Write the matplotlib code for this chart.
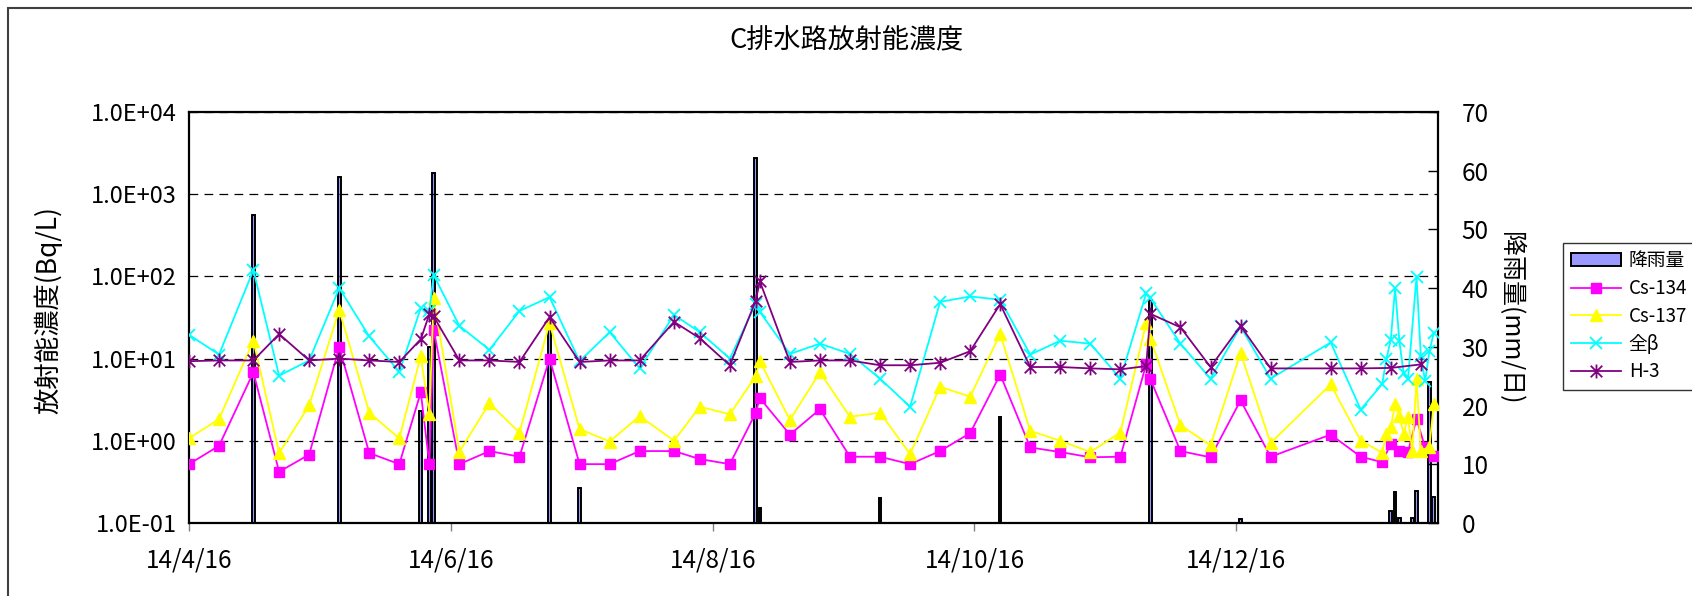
import matplotlib
matplotlib.use("Agg")
import numpy as np
import pandas as pd
import matplotlib.pyplot as plt
from matplotlib.path import Path
from matplotlib.patches import Rectangle
from matplotlib.ticker import FixedLocator, FuncFormatter, NullLocator

plt.rcParams['font.family'] = ['Noto Sans CJK JP', 'DejaVu Sans']

# sampling dates and concentrations (Bq/L), None = not measured
sample_dates = [
    '2014-04-16', '2014-04-23', '2014-05-01', '2014-05-07', '2014-05-14',
    '2014-05-21', '2014-05-28', '2014-06-04', '2014-06-09', '2014-06-11',
    '2014-06-12', '2014-06-18', '2014-06-25', '2014-07-02', '2014-07-09',
    '2014-07-16', '2014-07-23', '2014-07-30', '2014-08-07', '2014-08-13',
    '2014-08-20', '2014-08-26', '2014-08-27', '2014-09-03', '2014-09-10',
    '2014-09-17', '2014-09-24', '2014-10-01', '2014-10-08', '2014-10-15',
    '2014-10-22', '2014-10-29', '2014-11-05', '2014-11-12', '2014-11-19',
    '2014-11-25', '2014-11-26', '2014-12-03', '2014-12-10', '2014-12-17',
    '2014-12-24', '2015-01-07', '2015-01-14', '2015-01-19', '2015-01-20',
    '2015-01-21', '2015-01-22', '2015-01-23', '2015-01-24', '2015-01-25',
    '2015-01-26', '2015-01-27', '2015-01-28', '2015-01-29', '2015-01-30',
    '2015-01-31',
]
cs134 = [
    0.52, 0.87, 6.8, 0.42, 0.68, 13.8, 0.71, 0.52, 3.9, 0.52,
    22.5, 0.52, 0.75, 0.64, 10.0, 0.52, 0.52, 0.75, 0.75, 0.60,
    0.52, 2.17, 3.3, 1.19, 2.42, 0.64, 0.64, 0.52, 0.75, 1.24,
    6.4, 0.83, 0.73, 0.63, 0.64, 8.5, 5.6, 0.75, 0.63, 3.1,
    0.64, 1.19, 0.64, 0.55, None, 0.92, None, 0.76, None, 0.73,
    None, 1.85, None, 0.83, None, 0.66,
]
cs137 = [
    1.07, 1.84, 16.5, 0.71, 2.7, 39.0, 2.2, 1.07, 10.7, 2.1,
    54.0, 0.74, 2.86, 1.26, 27.0, 1.39, 0.98, 2.0, 1.0, 2.6,
    2.1, 6.1, 9.3, 1.8, 6.8, 1.96, 2.2, 0.69, 4.55, 3.44,
    20.0, 1.32, 1.0, 0.73, 1.26, 27.0, 17.4, 1.55, 0.88, 11.7,
    0.94, 4.85, 1.0, 0.72, 1.22, 1.46, 2.8, 2.0, 1.22, 1.93,
    0.76, 5.6, 0.76, None, 0.84, 2.8,
]
beta = [
    19.5, 11.2, 119.0, 6.2, 9.5, 72.0, 18.6, 6.9, 41.0, 38.0,
    104.0, 25.0, 12.8, 38.0, 56.0, 9.3, 21.0, 7.6, 34.0, 21.0,
    10.0, 46.0, 37.0, 11.4, 15.2, 11.4, 5.7, 2.6, 49.0, 57.0,
    52.0, 11.2, 16.5, 15.2, 5.7, 62.0, 54.0, 15.2, 5.7, 24.6,
    5.7, 15.7, 2.4, 4.9, 10.0, 17.0, 72.0, 16.3, 6.6, 5.6,
    None, 99.0, 10.7, 5.35, 12.3, 20.5,
]
h3 = [
    9.3, 9.5, 9.5, 19.9, 9.5, 10.0, 9.5, 9.1, 17.2, 34.8,
    32.6, 9.5, 9.5, 9.1, 32.0, 9.1, 9.5, 9.5, 28.0, 17.7,
    8.3, 50.0, 87.0, 9.1, 9.5, 9.5, 8.3, 8.3, 8.9, 12.3,
    46.0, 7.9, 7.9, 7.6, 7.4, 8.1, 35.0, 24.0, 7.9, 25.0,
    7.6, 7.6, 7.6, None, None, 7.7, None, None, None, None,
    None, None, 8.5, None, None, None,
]

# daily rainfall (mm/day)
rain_dates = [
    '2014-05-01', '2014-05-21', '2014-06-09', '2014-06-11', '2014-06-12',
    '2014-07-09', '2014-07-16', '2014-08-26', '2014-08-27', '2014-09-24',
    '2014-10-22', '2014-11-26', '2014-12-17', '2015-01-21', '2015-01-22',
    '2015-01-23', '2015-01-26', '2015-01-27', '2015-01-30', '2015-01-31',
]
rain_mm = [
    52.4, 59.0, 19.0, 30.0, 59.6,
    34.3, 6.0, 62.1, 2.6, 4.2,
    18.1, 37.9, 0.7, 2.0, 5.2,
    0.8, 0.8, 5.5, 24.0, 4.5,
]

tick_dates = ['2014-04-16', '2014-06-16', '2014-08-16', '2014-10-16', '2014-12-16']
tick_labels = ['14/4/16', '14/6/16', '14/8/16', '14/10/16', '14/12/16']


def main():
    W, H = 1692, 596
    fig = plt.figure(figsize=(W / 100, H / 100), dpi=100)

    # plot box in pixels: x 189..1438, y 112..523
    ax_rain = fig.add_axes([189 / W, 1 - 523 / H, (1438 - 189) / W, (523 - 112) / H])
    ax = ax_rain.twinx()

    # concentrations on the left log axis, rain on the right
    ax.yaxis.tick_left()
    ax.yaxis.set_label_position('left')
    ax_rain.yaxis.tick_right()
    ax_rain.yaxis.set_label_position('right')

    dates = pd.to_datetime(sample_dates)
    rain_dt = pd.to_datetime(rain_dates)

    bars = ax_rain.bar(rain_dt, rain_mm, width=0.6, color='#9999FF',
                       edgecolor='black', linewidth=1.4, label='降雨量')

    asterisk = Path([(-1, -1), (1, 1), (-1, 1), (1, -1), (0, -1.2), (0, 1.2)],
                    [Path.MOVETO, Path.LINETO, Path.MOVETO, Path.LINETO,
                     Path.MOVETO, Path.LINETO])

    series = [
        ('Cs-134', cs134, '#FF00FF', 's', 7, 1),
        ('Cs-137', cs137, '#FFFF00', '^', 8, 1),
        ('全β', beta, '#00FFFF', 'x', 9, 1.3),
        ('H-3', h3, '#800080', asterisk, 10, 1.3),
    ]
    handles = [bars]
    for name, vals, col, mk, ms, mew in series:
        s = pd.Series(vals, index=dates, dtype=float).dropna()
        ln, = ax.plot(s.index, s.values, color=col, lw=1.3, marker=mk,
                      ms=ms, mew=mew, mec=col, mfc=col, label=name)
        handles.append(ln)

    ax.set_yscale('log')
    ax.set_ylim(0.1, 1e4)
    ax.yaxis.set_major_locator(FixedLocator([0.1, 1, 10, 100, 1000, 10000]))
    ax.yaxis.set_minor_locator(NullLocator())
    ax.yaxis.set_major_formatter(FuncFormatter(lambda v, p: f"{v:.1E}"))
    ax.tick_params(axis='y', length=0, pad=9, labelsize=17)
    ax.grid(True, axis='y', which='major', color='black', lw=0.9,
            linestyle=(0, (7, 5)))
    for sp in ax.spines.values():
        sp.set_visible(False)

    ax_rain.set_ylim(0, 70)
    ax_rain.set_yticks(np.arange(0, 71, 10))
    ax_rain.tick_params(axis='y', direction='in', length=7, width=1,
                        pad=17, labelsize=17.5)
    for sp in ax_rain.spines.values():
        sp.set_linewidth(1.6)
        sp.set_color('black')

    ax_rain.set_xlim(pd.Timestamp('2014-04-16'), pd.Timestamp('2015-02-01'))
    ax_rain.set_xticks(pd.to_datetime(tick_dates))
    ax_rain.set_xticklabels(tick_labels)
    ax_rain.tick_params(axis='x', direction='out', length=6, width=1,
                        color='#808080', pad=12, labelsize=17.5)

    fig.text(0.5, 1 - 41 / H, 'C排水路放射能濃度', ha='center', va='center',
             fontsize=19.5)
    fig.text(48 / W, 1 - 310 / H, '放射能濃度(Bq/L)', ha='center', va='center',
             rotation=90, fontsize=19)
    fig.text(1510 / W, 1 - 318 / H, '降雨量(mm/日)', ha='center', va='center',
             rotation=-90, fontsize=18)

    leg = ax.legend(handles=handles, loc='upper left',
                    bbox_to_anchor=(1563 / W, 1 - 243 / H),
                    bbox_transform=fig.transFigure, fontsize=13.5,
                    frameon=True, fancybox=False, edgecolor='black',
                    handlelength=2.7, handletextpad=0.4, labelspacing=0.36,
                    borderpad=0.4, borderaxespad=0)
    leg.get_frame().set_linewidth(1.0)

    # outer chart border
    fig.patches.append(Rectangle((8 / W, -0.1), 1.2, 1.1 - 8 / H,
                                 transform=fig.transFigure, fill=False,
                                 edgecolor='#404040', lw=1.5))

    fig.savefig('out.png', dpi=100)


if __name__ == "__main__":
    main()
